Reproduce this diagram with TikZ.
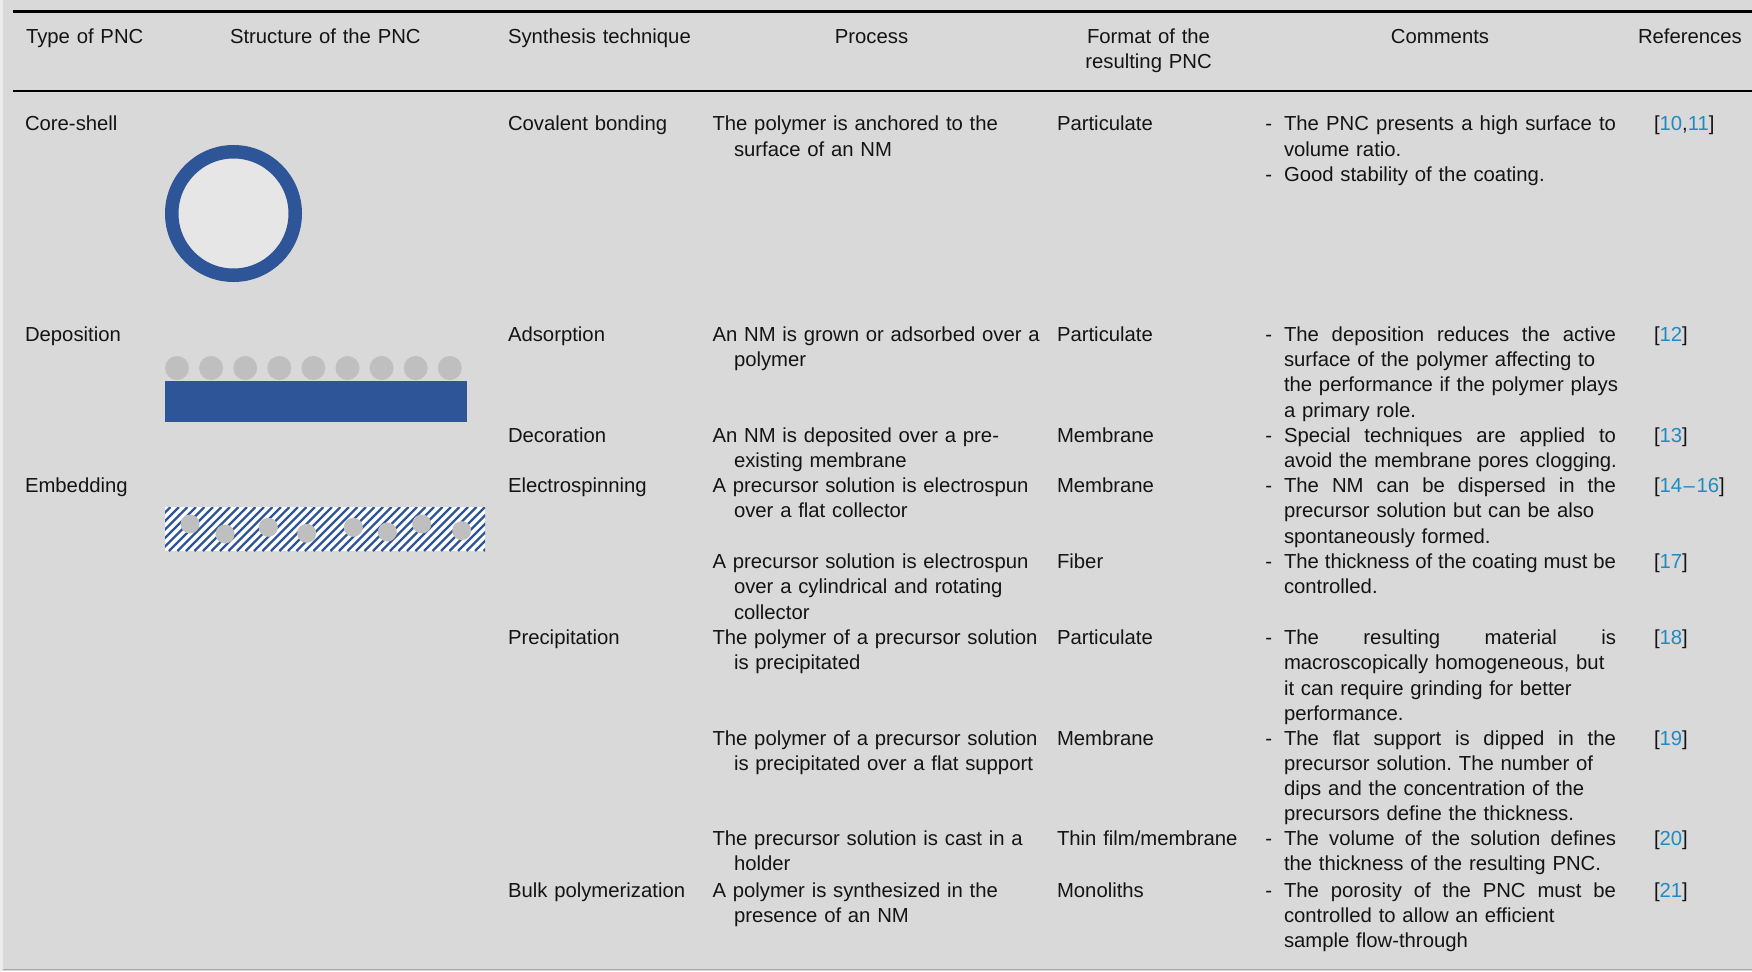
\documentclass[tikz,border=0pt]{standalone}
\usepackage{fontspec}
\setmainfont{Liberation Sans}
\frenchspacing
\definecolor{bg}{HTML}{D9D9D9}
\definecolor{bgl}{HTML}{ECECEC}
\definecolor{pblue}{HTML}{2E5597}
\definecolor{nmgray}{HTML}{BFBFBF}
\definecolor{innerc}{HTML}{E6E6E6}
\definecolor{lnkc}{HTML}{1E8BC3}
\definecolor{txtc}{HTML}{141414}
\newcommand{\reflink}[1]{\textcolor{lnkc}{#1}}
\newcommand{\jline}[1]{\hbox to 332pt{\spaceskip=\fontdimen2\font plus 1fil\relax #1}}
\newcommand{\dsh}{\leavevmode\llap{-\hspace{12pt}}}
\newcommand{\ind}{\hspace*{21.5pt}}
\begin{document}
\begin{tikzpicture}[x=1pt,y=-1pt,
  txt/.style={anchor=base west, inner sep=0pt, outer sep=0pt, align=left, text width=345pt,
    font=\fontsize{20.3}{25.2}\selectfont\frenchspacing, text=txtc},
  hdc/.style={txt, anchor=base, align=center, text width=220pt}]
\useasboundingbox (0,0) rectangle (1752,971);
\fill[bg] (0,0) rectangle (1752,971);
\fill[bgl] (0,0) rectangle (2.5,971);
\draw[line width=1.5pt, color=black!35] (2.5,969.5) -- (1752,969.5);
% rules
\draw[line width=3.3pt, color=black] (13,11.7) -- (1752,11.7);
\draw[line width=2pt, color=black] (13,90.7) -- (1752,90.7);
% header
\node[txt] (h1) at (26,43.3) {Type of PNC};
\node[txt] (h2) at (230,43.3) {Structure of the PNC};
\node[txt] (h3) at (508,43.3) {Synthesis technique};
\node[hdc] (h4) at (871.5,43.3) {Process};
\node[hdc] (h5) at (1148.5,43.3) {Format of the\\resulting PNC};
\node[hdc] (h6) at (1440,43.3) {Comments};
\node[txt] (h7) at (1638,43.3) {References};
% structure drawings
\draw[pblue, line width=13.5pt, fill=innerc] (233.5,213.5) circle (61.75);
\fill[pblue] (165,381) rectangle (467,422);
\foreach \k in {0,...,8} \fill[nmgray] ({177+\k*34.1},368) circle (12);
\begin{scope}
  \clip (165,507) rectangle (485,551);
  \fill[white] (165,507) rectangle (485,551);
  \foreach \i in {0,...,45} \draw[pblue, line width=2.4pt] ({118+\i*8.5},551) -- ({162+\i*8.5},507);
\end{scope}
\foreach \cx/\cy in {190/524, 225/534, 268.3/527.3, 306.7/533.3, 353.3/527.3, 387.3/532, 421.7/524, 461.7/530.7}
  \fill[nmgray] (\cx,\cy) circle (9.5);
% row 1
\node[txt] (t1) at (25,131) {Core-shell};
\node[txt] (s1) at (508,131) {Covalent bonding};
\node[txt] (p1) at (712.5,131) {The polymer is anchored to the\\\ind surface of an NM};
\node[txt] (f1) at (1057,131) {Particulate};
\node[txt] (c1) at (1284,131) {\dsh\jline{The PNC presents a high surface to}\\volume ratio.\\\dsh Good stability of the coating.};
\node[txt] (r1) at (1654,131) {[\reflink{10},\reflink{11}]};
% row 2
\node[txt] (t2) at (25,341.5) {Deposition};
\node[txt] (s2) at (508,341.5) {Adsorption};
\node[txt] (p2) at (712.5,341.5) {An NM is grown or adsorbed over a\\\ind polymer};
\node[txt] (f2) at (1057,341.5) {Particulate};
\node[txt] (c2) at (1284,341.5) {\dsh\jline{The deposition reduces the active}\\surface of the polymer affecting to\\the performance if the polymer plays\\a primary role.};
\node[txt] (r2) at (1654,341.5) {[\reflink{12}]};
% row 3
\node[txt] (s3) at (508,442.5) {Decoration};
\node[txt] (p3) at (712.5,442.5) {An NM is deposited over a pre-\\\ind existing membrane};
\node[txt] (f3) at (1057,442.5) {Membrane};
\node[txt] (c3) at (1284,442.5) {\dsh\jline{Special techniques are applied to}\\avoid the membrane pores clogging.};
\node[txt] (r3) at (1654,442.5) {[\reflink{13}]};
% row 4
\node[txt] (t4) at (25,492.7) {Embedding};
\node[txt] (s4) at (508,492.7) {Electrospinning};
\node[txt] (p4) at (712.5,492.7) {A precursor solution is electrospun\\\ind over a flat collector};
\node[txt] (f4) at (1057,492.7) {Membrane};
\node[txt] (c4) at (1284,492.7) {\dsh\jline{The NM can be dispersed in the}\\precursor solution but can be also\\spontaneously formed.};
\node[txt] (r4) at (1654,492.7) {[\reflink{14\kern1.5pt–\kern1.5pt16}]};
% row 5
\node[txt] (p5) at (712.5,568.6) {A precursor solution is electrospun\\\ind over a cylindrical and rotating\\\ind collector};
\node[txt] (f5) at (1057,568.6) {Fiber};
\node[txt] (c5) at (1284,568.6) {\dsh\jline{The thickness of the coating must be}\\controlled.};
\node[txt] (r5) at (1654,568.6) {[\reflink{17}]};
% row 6
\node[txt] (s6) at (508,644.6) {Precipitation};
\node[txt] (p6) at (712.5,644.6) {The polymer of a precursor solution\\\ind is precipitated};
\node[txt] (f6) at (1057,644.6) {Particulate};
\node[txt] (c6) at (1284,644.6) {\dsh\jline{The resulting material is}\\macroscopically homogeneous, but\\it can require grinding for better\\performance.};
\node[txt] (r6) at (1654,644.6) {[\reflink{18}]};
% row 7
\node[txt] (p7) at (712.5,745.1) {The polymer of a precursor solution\\\ind is precipitated over a flat support};
\node[txt] (f7) at (1057,745.1) {Membrane};
\node[txt] (c7) at (1284,745.1) {\dsh\jline{The flat support is dipped in the}\\precursor solution. The number of\\dips and the concentration of the\\precursors define the thickness.};
\node[txt] (r7) at (1654,745.1) {[\reflink{19}]};
% row 8
\node[txt] (p8) at (712.5,845.7) {The precursor solution is cast in a\\\ind holder};
\node[txt] (f8) at (1057,845.7) {Thin film/membrane};
\node[txt] (c8) at (1284,845.7) {\dsh\jline{The volume of the solution defines}\\the thickness of the resulting PNC.};
\node[txt] (r8) at (1654,845.7) {[\reflink{20}]};
% row 9
\node[txt] (s9) at (508,897.3) {Bulk polymerization};
\node[txt] (p9) at (712.5,897.3) {A polymer is synthesized in the\\\ind presence of an NM};
\node[txt] (f9) at (1057,897.3) {Monoliths};
\node[txt] (c9) at (1284,897.3) {\dsh\jline{The porosity of the PNC must be}\\controlled to allow an efficient\\sample flow-through};
\node[txt] (r9) at (1654,897.3) {[\reflink{21}]};
\end{tikzpicture}
\end{document}
